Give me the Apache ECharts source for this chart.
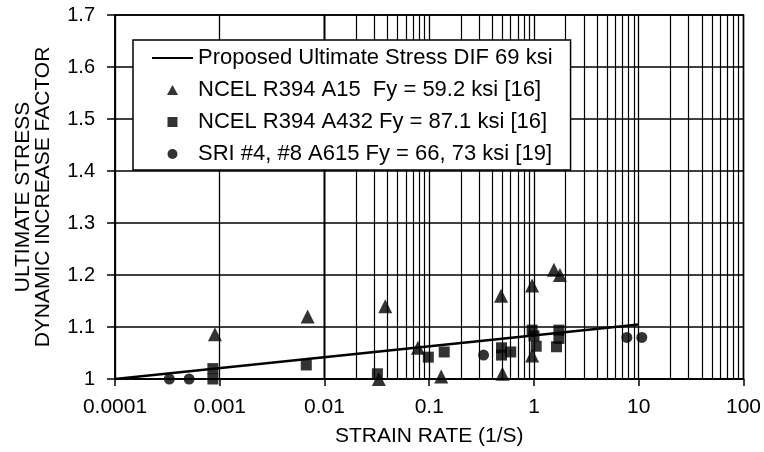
<!DOCTYPE html>
<html>
<head>
<meta charset="utf-8">
<script src="https://cdn.jsdelivr.net/npm/echarts@6/dist/echarts.min.js"></script>
<style>
  html, body { margin: 0; padding: 0; background: #fff; }
  #main { width: 764px; height: 452px; }
</style>
</head>
<body>
<div id="main"></div>
<script>
var chart = echarts.init(document.getElementById('main'));

// data
var lineName = 'Proposed Ultimate Stress DIF 69 ksi';
var a15Name = 'NCEL R394 A15  Fy = 59.2 ksi [16]';
var a432Name = 'NCEL R394 A432 Fy = 87.1 ksi [16]';
var sriName = 'SRI #4, #8 A615 Fy = 66, 73 ksi [19]';

var proposedLine = [[0.0001, 1.0], [10, 1.105]];

var a15Points = [
    [0.0009, 1.086], [0.0069, 1.12], [0.038, 1.14], [0.033, 1.0],
    [0.078, 1.06], [0.13, 1.005], [0.485, 1.16], [0.5, 1.01],
    [0.96, 1.18], [0.96, 1.045], [1.55, 1.21], [1.77, 1.2]
];
var a432Points = [
    [0.00086, 1.02], [0.00086, 1.0], [0.0067, 1.027], [0.032, 1.01],
    [0.098, 1.042], [0.139, 1.052], [0.49, 1.06], [0.49, 1.046],
    [0.6, 1.052], [0.96, 1.094], [1.0, 1.083], [1.05, 1.063],
    [1.73, 1.094], [1.73, 1.078], [1.64, 1.062]
];
var sriPoints = [
    [0.00033, 1.0], [0.00051, 1.0], [0.33, 1.046], [7.7, 1.08], [10.7, 1.08]
];

// minor log grid lines (2..9 in each decade)
var decades = [0.0001, 0.001, 0.01, 0.1, 1, 10];
var minorLines = [];
decades.forEach(function (d) {
    for (var k = 2; k <= 9; k++) {
        minorLines.push({ xAxis: Number((d * k).toPrecision(3)) });
    }
});

var font = 'Liberation Sans, Arial, sans-serif';

var option = {
    backgroundColor: '#fff',
    animation: false,
    textStyle: { fontFamily: font, color: '#000' },
    grid: {
        left: 115, right: 19, top: 15, bottom: 72,
        show: true, borderColor: '#000', borderWidth: 1.5
    },
    legend: {
        orient: 'vertical',
        left: 133, top: 40,
        z: 20,
        padding: [7, 18, 5, 19],
        itemGap: 10,
        itemWidth: 41, itemHeight: 10,
        itemTextGap: 4,
        backgroundColor: '#fff',
        borderColor: '#000', borderWidth: 1.5,
        borderRadius: 0,
        textStyle: { fontFamily: font, fontSize: 22, color: '#000' },
        data: [
            { name: lineName, icon: 'path://M0,0H41V2H0Z' },
            { name: a15Name, icon: 'path://M5,0L10,9L0,9Z' },
            { name: a432Name, icon: 'path://M0,0H9V9H0Z' },
            { name: sriName, icon: 'path://M5,0A5,5,0,1,1,5,10A5,5,0,1,1,5,0Z' }
        ]
    },
    xAxis: {
        type: 'log',
        logBase: 10,
        min: 0.0001, max: 100,
        name: 'STRAIN RATE (1/S)',
        nameLocation: 'middle',
        nameGap: 47,
        nameTextStyle: { fontFamily: font, fontSize: 21, color: '#000' },
        axisLine: { lineStyle: { color: '#000', width: 1.5 } },
        axisTick: { show: true, length: 7, lineStyle: { color: '#000', width: 1.5 } },
        axisLabel: {
            fontFamily: font, fontSize: 21, color: '#000', margin: 18,
            formatter: function (v) { return String(Number(v.toPrecision(6))); }
        },
        splitLine: { show: true, lineStyle: { color: '#000', width: 1.3 } }
    },
    yAxis: {
        type: 'value',
        min: 1, max: 1.7, interval: 0.1,
        name: 'ULTIMATE STRESS\nDYNAMIC INCREASE FACTOR',
        nameLocation: 'middle',
        nameRotate: 90,
        nameGap: 62,
        nameTextStyle: { fontFamily: font, fontSize: 21, color: '#000', lineHeight: 20 },
        axisLine: { show: true, lineStyle: { color: '#000', width: 1.5 } },
        axisTick: { show: true, length: 8, lineStyle: { color: '#000', width: 1.5 } },
        axisLabel: { fontFamily: font, fontSize: 20, color: '#000', margin: 20 },
        splitLine: { show: true, lineStyle: { color: '#000', width: 1.5 } }
    },
    series: [
        {
            name: 'minor grid',
            type: 'line',
            data: [],
            silent: true,
            markLine: {
                silent: true,
                symbol: 'none',
                label: { show: false },
                lineStyle: { color: '#000', width: 1.2, type: 'solid' },
                data: minorLines
            }
        },
        {
            name: lineName,
            type: 'line',
            data: proposedLine,
            symbol: 'none',
            showSymbol: false,
            lineStyle: { color: '#000', width: 2.5 },
            itemStyle: { color: '#000' },
            z: 3
        },
        {
            name: a15Name,
            type: 'scatter',
            symbol: 'triangle',
            symbolSize: 14,
            itemStyle: { color: '#000' },
            data: a15Points,
            z: 4
        },
        {
            name: a432Name,
            type: 'scatter',
            symbol: 'rect',
            symbolSize: 11,
            itemStyle: { color: '#000' },
            data: a432Points,
            z: 4
        },
        {
            name: sriName,
            type: 'scatter',
            symbol: 'circle',
            symbolSize: 11,
            itemStyle: { color: '#000' },
            data: sriPoints,
            z: 4
        }
    ]
};
chart.setOption(option);
</script>
</body>
</html>
